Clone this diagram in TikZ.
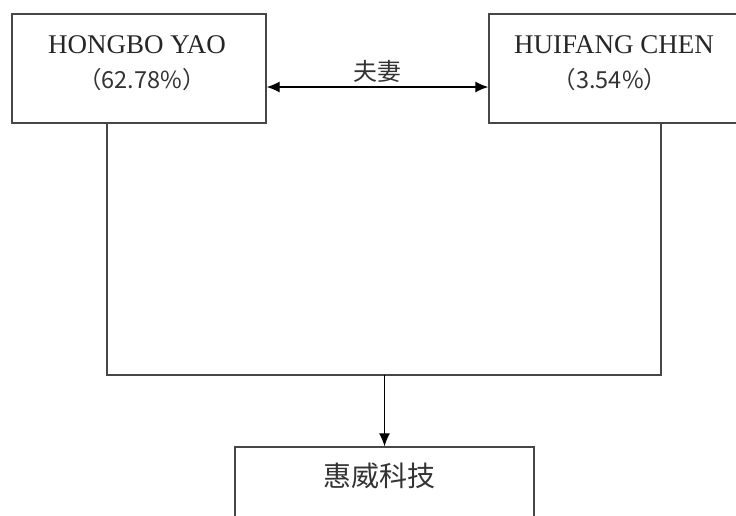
\documentclass[tikz,border=0pt]{standalone}
\usepackage{fontspec}
\setmainfont{Liberation Serif}
\newfontfamily\cjk{Noto Sans CJK SC}
\usetikzlibrary{arrows.meta,calc}
\begin{document}
\begin{tikzpicture}[x=1pt,y=-1pt,
  box/.style={draw=black!72,line width=1.4pt,rectangle,inner sep=0pt},
  conn/.style={draw=black!72,line width=1.4pt},
  arr/.style={draw=black,line width=1.2pt,-{Latex[length=13pt,width=11pt]}},
  darr/.style={draw=black,line width=1.2pt,{Latex[length=13pt,width=11pt]}-{Latex[length=13pt,width=11pt]}},
  en/.style={font=\fontsize{27}{30}\selectfont,inner sep=0pt,text=black!85},
  pc/.style={font=\cjk\fontsize{23.5}{26}\selectfont,inner sep=0pt,text=black!80},
  cn/.style={font=\cjk\fontsize{24}{28}\selectfont,inner sep=0pt,text=black!80}]
\fill[white] (0,0) rectangle (736,515);
\useasboundingbox (0,0) rectangle (736,515);
\clip (0,0) rectangle (736,515);
% boxes
\node[box,minimum width=254pt,minimum height=109pt] (hy) at (139,68.5) {};
\node[box,minimum width=252pt,minimum height=109pt] (hc) at (615,68.5) {};
\node[box,minimum width=299pt,minimum height=120pt] (wt) at (384.5,507) {};
% texts
\node[en] (hyn) at (137,45) {HONGBO YAO};
\node[pc] (hyp) at (142,80) {（62.78\%）};
\node[en] (hcn) at (614,45) {HUIFANG CHEN};
\node[pc] (hcp) at (610,80) {（3.54\%）};
\node[cn] (fq) at (377,71) {夫妻};
\node[cn,font=\cjk\fontsize{28}{32}\selectfont] (wtn) at (379,476) {惠威科技};
% connectors
\draw[darr] ([yshift=-18.5pt]hy.east) -- ([yshift=-18.5pt]hc.west);
\coordinate (hl) at (107,375);
\coordinate (hr) at (661,375);
\coordinate (j) at (384.5,375);
\draw[conn] (hy.south -| hl) -- (hl) -- (hr) -- (hc.south -| hr);
\draw[arr] (j) -- (wt.north);
\end{tikzpicture}
\end{document}
